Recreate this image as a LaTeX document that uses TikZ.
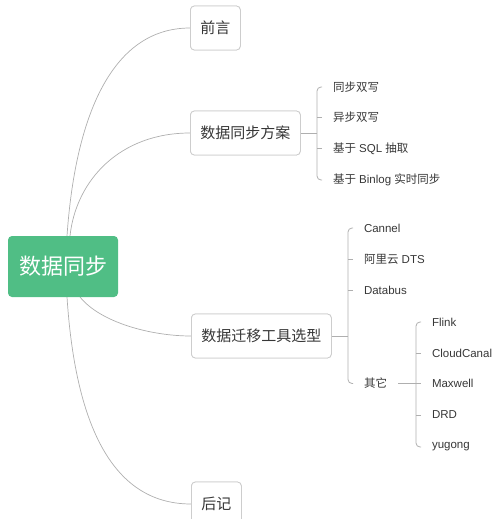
\documentclass[tikz,border=0pt]{standalone}
\usepackage{fontspec}
\setmainfont{Liberation Sans}
\newfontfamily\cjk{Noto Sans CJK SC}
\definecolor{rootgreen}{RGB}{80,190,133}
\definecolor{linegray}{RGB}{175,175,175}
\definecolor{boxgray}{RGB}{205,205,205}
\definecolor{txt}{RGB}{55,55,55}
\tikzset{
  rootbox/.style={fill=rootgreen, draw=none, rounded corners=4pt, text=white,
    font=\cjk\fontsize{22}{22}\selectfont, minimum width=110pt, minimum height=61pt, inner sep=0pt},
  topic/.style={draw=boxgray, line width=0.8pt, rounded corners=4pt, fill=white, text=txt,
    font=\cjk\fontsize{15}{15}\selectfont, inner xsep=10pt, minimum height=44pt, anchor=west},
  leaf/.style={text=txt, font=\fontsize{11.5}{11.5}\selectfont, inner xsep=0pt, inner ysep=2pt,
    outer xsep=11pt, anchor=west},
  curve/.style={draw=linegray, line width=0.7pt},
  branch/.style={draw=linegray, line width=0.8pt, rounded corners=4pt},
}
\begin{document}
\begin{tikzpicture}[x=1pt,y=-1pt]
\useasboundingbox (0,0) rectangle (500,519);
\clip (0,0) rectangle (500,519);
% curves first
\coordinate (rt1) at (67,236);
\coordinate (rt2) at (70,236);
\coordinate (rb1) at (67,297);
\coordinate (rb2) at (80,297);
\node[topic] (n1) at (190,28) {前言};
\node[topic] (n2) at (190,133) {数据同步方案};
\node[topic] (n3) at (191,336) {数据迁移工具选型};
\node[topic] (n4) at (191,504) {后记};
\draw[curve] (rt1) .. controls (75,120) and (110,28) .. (n1.west);
\draw[curve] (rt2) .. controls (76,180) and (120,133) .. (n2.west);
\draw[curve] (rb2) .. controls (100,322) and (150,336) .. (n3.west);
\draw[curve] (rb1) .. controls (75,420) and (110,504) .. (n4.west);
\node[rootbox] (root) at (63,266.5) {数据同步};
% redraw topics above curves
\node[topic] at (190,28) {前言};
\node[topic] at (190,133) {数据同步方案};
\node[topic] at (191,336) {数据迁移工具选型};
\node[topic] at (191,504) {后记};
% group 1
\node[leaf] (a1) at (322,87) {\cjk 同步双写};
\node[leaf] (a2) at (322,117.5) {\cjk 异步双写};
\node[leaf] (a3) at (322,148.5) {{\cjk 基于} SQL {\cjk 抽取}};
\node[leaf] (a4) at (322,180) {{\cjk 基于} Binlog {\cjk 实时同步}};
\coordinate (bx1) at (317,133);
\draw[branch] (n2.east) -- (bx1);
\draw[branch] (a1.west) -| (bx1) |- (a4.west);
\draw[branch] (a2.west) -- (a2.west -| bx1);
\draw[branch] (a3.west) -- (a3.west -| bx1);
% group 2
\node[leaf] (b1) at (353,228) {Cannel};
\node[leaf] (b2) at (353,259) {{\cjk 阿里云} DTS};
\node[leaf] (b3) at (353,290) {Databus};
\node[leaf] (b4) at (353,383.5) {\cjk 其它};
\coordinate (bx2) at (348,336);
\draw[branch] (n3.east) -- (bx2);
\draw[branch] (b1.west) -| (bx2) |- (b4.west);
\draw[branch] (b2.west) -- (b2.west -| bx2);
\draw[branch] (b3.west) -- (b3.west -| bx2);
% group 3
\node[leaf] (c1) at (421,322) {Flink};
\node[leaf] (c2) at (421,353) {CloudCanal};
\node[leaf] (c3) at (421,383.5) {Maxwell};
\node[leaf] (c4) at (421,415) {DRD};
\node[leaf] (c5) at (421,447) {yugong};
\coordinate (bx3) at (416,383.5);
\draw[branch] (b4.east) -- (c3.west);
\draw[branch] (c1.west) -| (bx3) |- (c5.west);
\draw[branch] (c2.west) -- (c2.west -| bx3);
\draw[branch] (c4.west) -- (c4.west -| bx3);
\end{tikzpicture}
\end{document}
